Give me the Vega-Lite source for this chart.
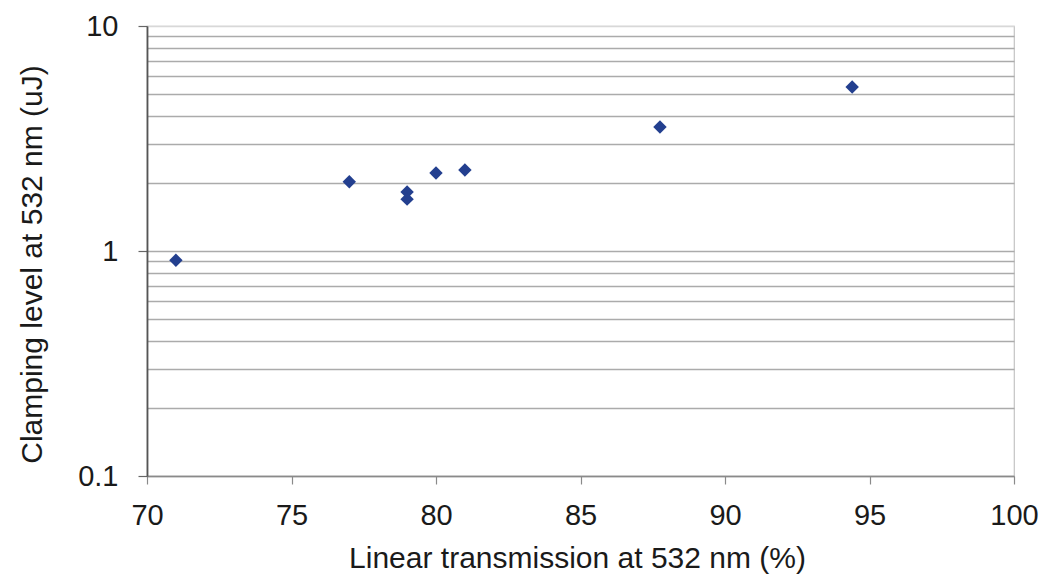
{
  "$schema": "https://vega.github.io/schema/vega-lite/v6.json",
  "width": 867,
  "height": 450,
  "autosize": "none",
  "padding": {"left": 147, "top": 26, "right": 32, "bottom": 100},
  "background": "white",
  "config": {
    "view": {"stroke": "#c4c4c4", "strokeWidth": 1.2},
    "font": "Liberation Sans"
  },
  "data": {
    "values": [
      {"transmission": 71, "clamping": 0.91},
      {"transmission": 77, "clamping": 2.03},
      {"transmission": 79, "clamping": 1.83},
      {"transmission": 79, "clamping": 1.70},
      {"transmission": 80, "clamping": 2.22},
      {"transmission": 81, "clamping": 2.29},
      {"transmission": 87.75, "clamping": 3.56},
      {"transmission": 94.4, "clamping": 5.36}
    ]
  },
  "mark": {"type": "point", "shape": "diamond", "filled": true, "size": 180, "color": "#233f8f", "opacity": 1},
  "encoding": {
    "x": {
      "field": "transmission",
      "type": "quantitative",
      "scale": {"domain": [70, 100], "nice": false, "zero": false},
      "axis": {
        "title": "Linear transmission at 532 nm (%)",
        "values": [70, 75, 80, 85, 90, 95, 100],
        "grid": false,
        "domainColor": "#8a8a8a",
        "domainWidth": 1.5,
        "tickColor": "#8a8a8a",
        "tickSize": 8,
        "tickWidth": 1.2,
        "labelFlush": false,
        "labelFontSize": 29,
        "labelColor": "#1a1a1a",
        "labelPadding": 17,
        "labelFont": "Liberation Sans",
        "titleFont": "Liberation Sans",
        "titleFontSize": 30,
        "titleFontWeight": "normal",
        "titleColor": "#1a1a1a",
        "titleBaseline": "middle",
        "titleX": 430,
        "titleY": 82
      }
    },
    "y": {
      "field": "clamping",
      "type": "quantitative",
      "scale": {"type": "log", "domain": [0.1, 10], "nice": false},
      "axis": {
        "title": "Clamping level at 532 nm (uJ)",
        "values": [0.1, 0.2, 0.3, 0.4, 0.5, 0.6, 0.7, 0.8, 0.9, 1, 2, 3, 4, 5, 6, 7, 8, 9, 10],
        "labelExpr": "indexof([0.1, 1, 10], datum.value) >= 0 ? datum.value + '' : ''",
        "grid": true,
        "gridColor": {"condition": {"test": "datum.value == 10", "value": "#d8d8d8"}, "value": "#ababab"},
        "gridWidth": 1.5,
        "domainColor": "#555555",
        "domainWidth": 1.8,
        "tickColor": "#666666",
        "tickSize": 9,
        "tickWidth": 1.2,
        "tickOpacity": {"condition": {"test": "indexof([0.1, 1, 10], datum.value) >= 0", "value": 1}, "value": 0},
        "labelFlush": false,
        "labelFontSize": 29,
        "labelColor": "#1a1a1a",
        "labelPadding": 20,
        "labelFont": "Liberation Sans",
        "labelBaseline": "middle",
        "titleFont": "Liberation Sans",
        "titleFontSize": 30,
        "titleFontWeight": "normal",
        "titleColor": "#1a1a1a",
        "titleAngle": -90,
        "titleBaseline": "middle",
        "titleX": -115,
        "titleY": 238
      }
    }
  }
}
